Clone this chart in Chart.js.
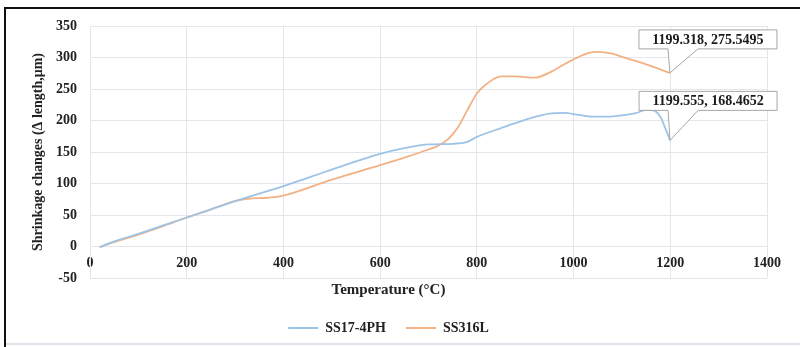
<!DOCTYPE html>
<html>
<head>
<meta charset="utf-8">
<script src="https://cdn.jsdelivr.net/npm/chart.js@4/dist/chart.umd.min.js"></script>
<style>
  html, body { margin: 0; padding: 0; background: #fff; }
  #wrap { width: 800px; height: 347px; position: relative; }
</style>
</head>
<body>
<div id="wrap"><canvas id="shrinkChart"></canvas></div>
<script>
// SS17-4PH curve
const tempA = [20, 50, 100, 150, 200, 250, 300, 350, 400, 450, 500, 550, 600, 650, 700, 750, 780, 800, 850, 900, 950, 980, 1010, 1040, 1070, 1100, 1130, 1150, 1165, 1180, 1190, 1199.555];
const shrinkA = [-1, 8, 20, 33, 46, 59, 72, 84, 96, 109, 122, 135, 147, 156, 162, 163, 166, 174, 188, 201, 211, 212, 209, 206, 206, 208, 212, 217, 216, 205, 187, 168.4652];

// SS316L curve
const tempB = [20, 50, 100, 150, 200, 250, 300, 330, 360, 390, 420, 500, 600, 650, 700, 720, 740, 760, 780, 800, 820, 850, 880, 920, 950, 980, 1000, 1030, 1050, 1080, 1100, 1150, 1199.318];
const shrinkB = [-1, 7, 19, 32, 46, 59, 72, 76, 77, 79, 85, 106, 129, 141, 154, 160, 170, 188, 216, 243, 258, 270, 270, 268, 276, 289, 297, 307, 309, 306, 301, 289, 275.5495];

const seriesNames = ['SS17-4PH', 'SS316L'];
const xTicks = [0, 200, 400, 600, 800, 1000, 1200, 1400];
const yTicks = [-50, 0, 50, 100, 150, 200, 250, 300, 350];

// data labels shown in the callouts
const callouts = [
  { x: 1199.318, y: 275.5495, text: '1199.318, 275.5495' },
  { x: 1199.555, y: 168.4652, text: '1199.555, 168.4652' }
];
// box offsets from the pointed-at point (px above it)
const calloutLift = [43, 49];

const serif = 'Liberation Serif, Times New Roman, serif';
const gridColor = '#e2e7ee';

function toPoints(xs, ys) {
  return xs.map((x, i) => ({ x: x, y: ys[i] }));
}

// callout boxes with a wedge pointing at the last point
const calloutPlugin = {
  id: 'callouts',
  afterDatasetsDraw(chart) {
    const ctx = chart.ctx;
    const xs = chart.scales.x, ys = chart.scales.y;
    ctx.save();
    ctx.font = 'bold 14px ' + serif;
    callouts.forEach((c, i) => {
      const px = xs.getPixelForValue(c.x);
      const py = ys.getPixelForValue(c.y);
      const w = 138, h = 19;
      const left = px - 31, top = py - calloutLift[i];
      const bottom = top + h;
      ctx.beginPath();
      ctx.moveTo(left, top);
      ctx.lineTo(left + w, top);
      ctx.lineTo(left + w, bottom);
      ctx.lineTo(px + 28, bottom);
      ctx.lineTo(px, py);
      ctx.lineTo(px - 2, bottom);
      ctx.lineTo(left, bottom);
      ctx.closePath();
      ctx.fillStyle = '#fff';
      ctx.fill();
      ctx.strokeStyle = '#a6a6a6';
      ctx.lineWidth = 1;
      ctx.stroke();
      ctx.fillStyle = '#1a1a1a';
      ctx.textAlign = 'center';
      ctx.textBaseline = 'middle';
      ctx.fillText(c.text, left + w / 2, top + h / 2 + 1);
    });
    ctx.restore();
  }
};

// outer frame of the figure
const framePlugin = {
  id: 'frame',
  afterDraw(chart) {
    const ctx = chart.ctx;
    ctx.save();
    ctx.strokeStyle = '#dde3ea';
    ctx.lineWidth = 2;
    ctx.beginPath();
    ctx.moveTo(5, 344);
    ctx.lineTo(800, 344);
    ctx.stroke();
    ctx.strokeStyle = '#111';
    ctx.lineWidth = 2;
    ctx.beginPath();
    ctx.moveTo(800, 8);
    ctx.lineTo(5, 8);
    ctx.lineTo(5, 347);
    ctx.stroke();
    ctx.restore();
  }
};

new Chart('shrinkChart', {
  type: 'line',
  data: {
    datasets: [{
      label: seriesNames[0],
      data: toPoints(tempA, shrinkA),
      borderColor: '#9dc3e6',
      backgroundColor: '#9dc3e6',
      borderWidth: 1.8,
      pointRadius: 0,
      cubicInterpolationMode: 'monotone',
      fill: false
    }, {
      label: seriesNames[1],
      data: toPoints(tempB, shrinkB),
      borderColor: '#f4b183',
      backgroundColor: '#f4b183',
      borderWidth: 1.8,
      pointRadius: 0,
      cubicInterpolationMode: 'monotone',
      fill: false
    }]
  },
  options: {
    responsive: true,
    maintainAspectRatio: false,
    animation: false,
    layout: {
      padding: { left: 10, right: 33, top: 26, bottom: 2 }
    },
    scales: {
      x: {
        type: 'linear',
        position: { y: 0 },
        min: 0,
        max: 1400,
        afterBuildTicks(scale) {
          scale.ticks = xTicks.map(v => ({ value: v }));
        },
        grid: { color: gridColor, drawTicks: false },
        border: { color: gridColor },
        ticks: {
          padding: 8,
          color: '#222',
          font: { family: serif, size: 14, weight: 'bold' },
          callback: v => String(v)
        }
      },
      y: {
        min: -50,
        max: 350,
        afterBuildTicks(scale) {
          scale.ticks = yTicks.map(v => ({ value: v }));
        },
        afterFit(scale) {
          scale.width = 80;
        },
        grid: { color: gridColor, drawTicks: false },
        border: { color: gridColor },
        ticks: {
          padding: 13,
          color: '#222',
          font: { family: serif, size: 14, weight: 'bold' },
          callback: v => String(v)
        },
        title: {
          display: true,
          text: 'Shrinkage changes (Δ length,μm)',
          color: '#222',
          padding: { top: 20, bottom: 0 },
          font: { family: serif, size: 14, weight: 'bold' }
        }
      }
    },
    plugins: {
      title: {
        display: true,
        position: 'bottom',
        weight: 500,
        text: 'Temperature (°C)',
        color: '#222',
        padding: { top: 3, bottom: 2 },
        font: { family: serif, size: 15, weight: 'bold' }
      },
      legend: {
        position: 'bottom',
        labels: {
          boxWidth: 30,
          boxHeight: 2,
          padding: 20,
          color: '#222',
          font: { family: serif, size: 14, weight: 'bold' },
          generateLabels(chart) {
            const items = Chart.defaults.plugins.legend.labels.generateLabels(chart);
            items.forEach(it => { it.lineWidth = 0; });
            return items;
          }
        }
      },
      tooltip: { enabled: false }
    }
  },
  plugins: [calloutPlugin, framePlugin]
});
</script>
</body>
</html>
